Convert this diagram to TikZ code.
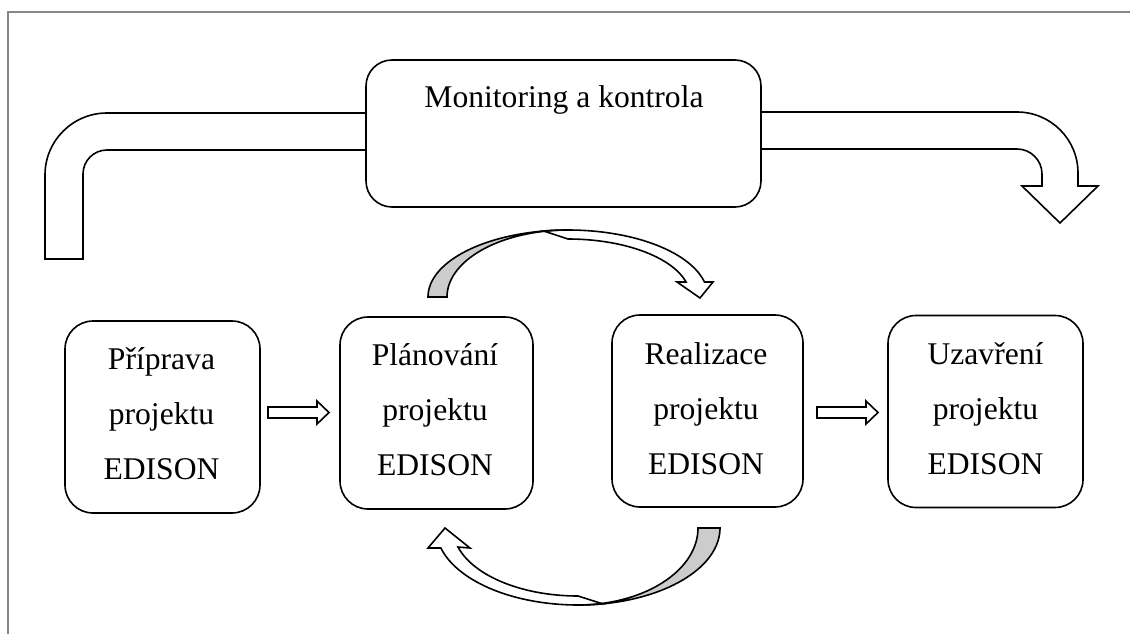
\documentclass[tikz,border=0pt]{standalone}
\usepackage{fontspec}
\setmainfont{Liberation Serif}
\begin{document}
\begin{tikzpicture}[x=1pt,y=-1pt,
  outl/.style={draw=black, line width=1.6pt, line join=miter},
  box/.style={draw=black, line width=1.6pt, fill=white, rounded corners=28pt, inner sep=0pt, minimum height=192pt},
  lbl/.style={font=\fontsize{31.6}{55}\selectfont, align=center, inner sep=0pt, anchor=base},
  gshade/.style={outl, fill=black!20},
  wfill/.style={outl, fill=white}]

\useasboundingbox (0,0) rectangle (1130,634);
% frame
\draw[draw=black!47, line width=2pt] (8,634) -- (8,12.5) -- (1130,12.5);

% left bent band
\draw[wfill] (45,259) -- (45,175) arc[start angle=180, end angle=270, radius=62]
  -- (366,113) -- (366,150) -- (107,150) arc[start angle=270, end angle=180, radius=24]
  -- (83,259) -- cycle;
% right bent arrow
\draw[wfill] (761,112) -- (1017,112) arc[start angle=270, end angle=360, radius=61]
  -- (1078,186) -- (1098,186) -- (1060,223) -- (1022,186) -- (1042,186) -- (1042,174)
  arc[start angle=0, end angle=-90, radius=25] -- (761,149) -- cycle;

% monitoring box
\node[box, minimum width=395pt, minimum height=147pt, rounded corners=26pt] (mon) at (563.5,133.5) {};
\node[lbl] (mtxt) at (564,107) {Monitoring a kontrola};

% phase boxes
\node[box, minimum width=195pt] (b1) at (162.5,417) {};
\node[box, minimum width=193pt] (b2) at (436.5,413) {};
\node[box, minimum width=191pt] (b3) at (707.5,411) {};
\node[box, minimum width=195pt] (b4) at (985.5,411.5) {};
\node[lbl] (t1) at (161.5,479) {Příprava\\projektu\\EDISON};
\node[lbl] (t2) at (435,475) {Plánování\\projektu\\EDISON};
\node[lbl] (t3) at (706,474) {Realizace\\projektu\\EDISON};
\node[lbl] (t4) at (985.5,474) {Uzavření\\projektu\\EDISON};

% straight block arrows
\coordinate (a1) at (268,412.5);
\coordinate (a2) at (817,412.5);
\foreach \c in {a1,a2}{
  \draw[wfill] ([shift={(0,-5.5)}]\c) -- ([shift={(49,-5.5)}]\c) -- ([shift={(49,-11.5)}]\c)
    -- ([shift={(61,0)}]\c) -- ([shift={(49,11.5)}]\c) -- ([shift={(49,5.5)}]\c)
    -- ([shift={(0,5.5)}]\c) -- cycle;
}

% top curved arrow (Planovani -> Realizace)
\draw[wfill] plot[domain=100:12.94, samples=50] ({568+140*cos(\x)},{297-67*sin(\x)})
  -- (713,282) -- (700,298) -- (677,282)
  -- plot[domain=14.99:90, samples=50] ({568+122.2*cos(\x)},{297-58*sin(\x)}) -- cycle;
\draw[gshade] plot[domain=180:90, samples=50] ({568+140*cos(\x)},{297-67*sin(\x)})
  -- plot[domain=90:180, samples=50] ({568+121*cos(\x)},{297-67*sin(\x)}) -- cycle;

% bottom curved arrow (Realizace -> Planovani)
\draw[wfill] plot[domain=80:164.95, samples=50] ({578+142*cos(\x)},{528+77*sin(\x)})
  -- (428,548) -- (445,528) -- (470,548)
  -- plot[domain=163.74:90, samples=50] ({578+125*cos(\x)},{528+68*sin(\x)}) -- cycle;
\draw[gshade] plot[domain=0:90, samples=50] ({578+142*cos(\x)},{528+77*sin(\x)})
  -- plot[domain=90:0, samples=50] ({578+120*cos(\x)},{528+77*sin(\x)}) -- cycle;
\end{tikzpicture}
\end{document}
